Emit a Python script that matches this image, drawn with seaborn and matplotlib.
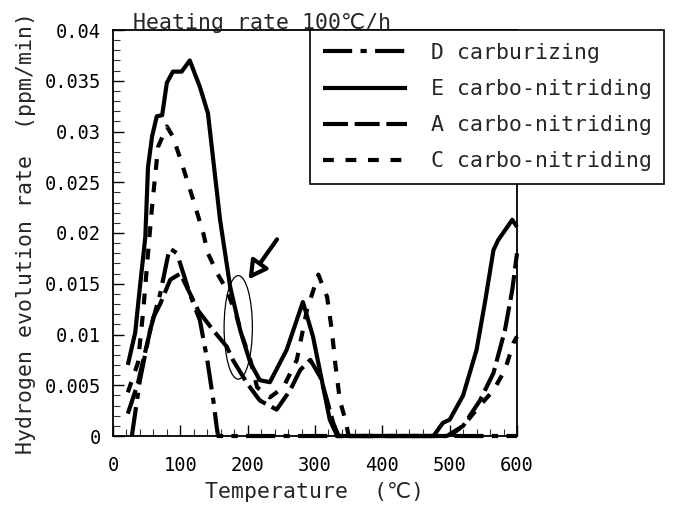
import pandas as pd
import seaborn as sns
import matplotlib.pyplot as plt
from matplotlib.patches import Ellipse
from matplotlib.ticker import MultipleLocator, FuncFormatter

# D carburizing (dash-dot)
d_x = [28, 40, 55, 70, 84, 95, 114, 129, 140, 149, 154, 156, 600]
d_y = [0, .0055, .0104, .014, .0185, .018, .014, .0114, .0075, .0035, .0009, 0, 0]

# E carbo-nitriding (solid)
e_x = [22, 33, 40, 48, 52, 58, 65, 73, 80, 89, 102, 114, 129, 141, 159, 174, 189, 204,
       218, 233, 258, 282, 297, 308, 322, 333, 476, 490, 500, 520, 540, 553, 565, 572, 593, 600]
e_y = [.007, .0102, .0147, .0196, .0265, .0295, .0315, .0316, .0348, .0359, .0359, .037,
       .0344, .0318, .0213, .0147, .0104, .0072, .0055, .0053, .0085, .0132, .0098, .0062,
       .0016, 0, 0, .0013, .0016, .004, .0085, .0134, .0183, .0193, .0213, .0206]

# A carbo-nitriding (long dash)
a_x = [22, 37, 45, 60, 70, 85, 100, 127, 149, 169, 178, 199, 218, 243, 263, 278, 293,
       308, 318, 327, 335, 496, 520, 545, 565, 582, 593, 600]
a_y = [.0022, .0052, .0075, .0117, .013, .0154, .016, .0123, .0104, .0088, .0075, .0052,
       .0035, .0026, .0045, .0065, .0075, .0058, .0035, .0013, 0, 0, .001, .0035, .0062,
       .0104, .0144, .018]

# C carbo-nitriding (short dash)
c_x = [22, 37, 45, 52, 58, 67, 80, 89, 102, 119, 134, 141, 155, 169, 184, 192, 204, 214,
       233, 253, 273, 288, 305, 318, 325, 330, 337, 345, 350, 500, 520, 545, 565, 582, 595, 600]
c_y = [.0043, .0072, .0124, .018, .0226, .0285, .0305, .0295, .0269, .0233, .02, .018,
       .016, .0144, .0117, .0098, .0075, .0048, .0038, .0048, .0075, .0124, .0159, .0137,
       .0104, .0072, .0035, .0016, 0, 0, .001, .003, .0045, .0065, .0092, .0098]

labels = ['D carburizing', 'E carbo-nitriding', 'A carbo-nitriding', 'C carbo-nitriding']

frames = []
for lab, xs, ys in zip(labels, [d_x, e_x, a_x, c_x], [d_y, e_y, a_y, c_y]):
    frames.append(pd.DataFrame({'T': xs, 'rate': ys, 'series': lab}))
df = pd.concat(frames, ignore_index=True)

sns.set_theme(style='ticks')
mono = ['DejaVu Sans Mono', 'DejaVu Sans']
plt.rcParams['font.family'] = mono

fig = plt.figure(figsize=(6.87, 5.08), dpi=100)
ax = fig.add_axes([113 / 687, 72 / 508, 404 / 687, 406 / 508])

dash_styles = {
    labels[0]: (7, 2, 1.5, 2),
    labels[1]: '',
    labels[2]: (6, 1.6),
    labels[3]: (2.6, 2.8),
}
sns.lineplot(data=df, x='T', y='rate', style='series', style_order=labels,
             dashes=dash_styles, color='black', linewidth=3.0, sort=False,
             estimator=None, ax=ax, legend=True)
for ln in ax.get_lines():
    ln.set_clip_on(False)
    ln.set_solid_capstyle('butt')
    ln.set_dash_capstyle('butt')

ax.set_xlim(0, 600)
ax.set_ylim(0, 0.04)
ax.xaxis.set_major_locator(MultipleLocator(100))
ax.xaxis.set_minor_locator(MultipleLocator(20))
ax.yaxis.set_major_locator(MultipleLocator(0.005))
ax.yaxis.set_minor_locator(MultipleLocator(0.001))
ax.yaxis.set_major_formatter(FuncFormatter(lambda v, p: '0' if abs(v) < 1e-9 else f'{v:g}'))
ax.tick_params(which='major', direction='in', length=8, width=1, labelsize=13.5, colors='black')
ax.tick_params(which='minor', direction='in', length=5, width=0.8, colors='#333333')
ax.tick_params(axis='y', pad=9)
ax.tick_params(axis='x', pad=14.5)
for sp in ax.spines.values():
    sp.set_color('black')
    sp.set_linewidth(1.3)

ax.set_xlabel('Temperature  (℃)', fontsize=15.5, labelpad=5)
ax.set_ylabel('Hydrogen evolution rate  (ppm/min)', fontsize=15.5)
ax.yaxis.set_label_coords(-0.19, 0.5)

ax.text(0.05, 1.003, 'Heating rate 100℃/h', transform=ax.transAxes, fontsize=15.5,
        va='baseline', ha='left')

# ellipse and arrow marking the region of interest
ax.add_patch(Ellipse((186, 0.0107), 42, 0.0102, angle=0, fill=False, ec='black', lw=0.9))
ax.annotate('', xy=(199, 0.0152), xytext=(246, 0.0196),
            arrowprops=dict(arrowstyle='-|>,head_length=0.9,head_width=0.5',
                            fc='white', ec='black', lw=3))

handles, _ = ax.get_legend_handles_labels()
ax.legend(handles, labels, loc='upper left', bbox_to_anchor=(310 / 687, 1 - 30 / 508),
          bbox_transform=fig.transFigure, borderaxespad=0, fancybox=False,
          framealpha=1, edgecolor='black', fontsize=15.5, handlelength=3.9,
          handletextpad=1.1, labelspacing=0.75, borderpad=0.6)
ax.get_legend().get_frame().set_linewidth(1.2)

fig.savefig('out.png', dpi=100)
